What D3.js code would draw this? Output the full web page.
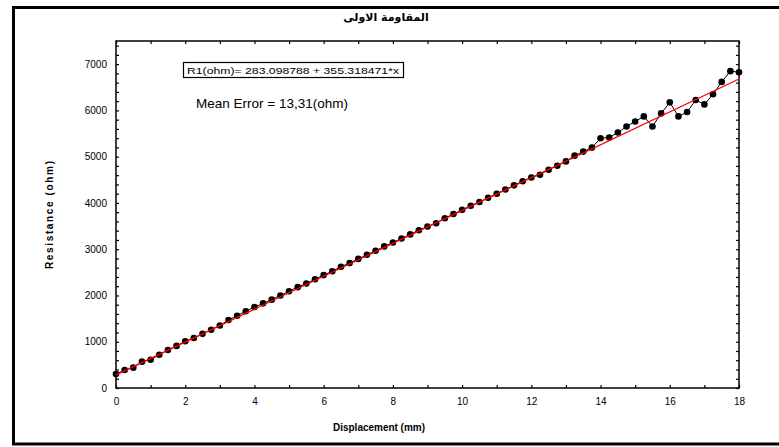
<!DOCTYPE html>
<html>
<head>
<meta charset="utf-8">
<script src="https://cdn.jsdelivr.net/npm/d3@7/dist/d3.min.js"></script>
<style>
	body { margin: 0; background: #fff; }
	text { font-family: "Liberation Sans", Arial, sans-serif; fill: #000; }
	.axis path { display: none; }
	.axis line { stroke: #000; stroke-width: 1.2; }
	.axis text { font-size: 10px; }
</style>
</head>
<body>
<div id="chart"></div>
<script>
// displacement (mm), 0.25 mm steps
var dispArr = d3.range(0, 18.001, 0.25);
var resArr = [
	300, 390, 440, 570, 610, 720, 820, 910, 1010, 1080, 1170, 1260, 1350, 1470, 1560, 1660, 1750, 1830, 1910, 2000, 2090, 2180,
	2260, 2350, 2440, 2525, 2620, 2700, 2790, 2880, 2965, 3060, 3145, 3230, 3320, 3410, 3490, 3560, 3670, 3760, 3850, 3940,
	4020, 4110, 4200, 4290, 4380, 4470, 4550,
	4610, 4717, 4804, 4898, 5022, 5109, 5196, 5398, 5413, 5522, 5652, 5761, 5870, 5652, 5935, 6174, 5870, 5964, 6225,
	6130, 6348, 6616, 6848, 6826
];
var fitA = 283.098788, fitB = 355.318471;
var xTicks = d3.range(0, 19, 1);
var yTicks = d3.range(0, 7501, 200);
var titleTxt = "المقاومة الاولى";
var eqTxt = "R1(ohm)= 283.098788 + 355.318471*x";
var errTxt = "Mean Error = 13,31(ohm)";
var xTitle = "Displacement (mm)";
var yTitle = "Resistance (ohm)";

var W = 779, H = 447;

var svg = d3.select("#chart").append("svg").attr("width", W).attr("height", H);

// outer frame (right edge falls outside the picture)
svg.append("rect").attr("x", 13.5).attr("y", 7.5).attr("width", 790).attr("height", 436.5)
	.attr("fill", "none").attr("stroke", "#000").attr("stroke-width", 3);

svg.append("text").attr("x", 386).attr("y", 21).attr("text-anchor", "middle")
	.style("font-family", "'DejaVu Sans', sans-serif").style("font-size", "11px").style("font-weight", "bold")
	.text(titleTxt);

var xSc = d3.scaleLinear().domain([0, 18]).range([116, 739]);
var ySc = d3.scaleLinear().domain([0, 7500]).range([388, 41]);

function evenLbl(d) { return d % 2 === 0 ? d : ""; }
function kLbl(d) { return d % 1000 === 0 ? d : ""; }

svg.append("g").attr("class", "axis").attr("transform", "translate(0,388)")
	.call(d3.axisBottom(xSc).tickValues(xTicks).tickSizeInner(-3).tickSizeOuter(0).tickPadding(10).tickFormat(evenLbl));
svg.append("g").attr("class", "axis").attr("transform", "translate(0,41)")
	.call(d3.axisTop(xSc).tickValues(xTicks).tickSizeInner(-3).tickSizeOuter(0).tickFormat(""));
svg.append("g").attr("class", "axis").attr("transform", "translate(116,0)")
	.call(d3.axisLeft(ySc).tickValues(yTicks).tickSizeInner(-3).tickSizeOuter(0).tickPadding(9).tickFormat(kLbl));
svg.append("g").attr("class", "axis").attr("transform", "translate(739,0)")
	.call(d3.axisRight(ySc).tickValues(yTicks).tickSizeInner(-3).tickSizeOuter(0).tickFormat(""));

// plot frame
svg.append("rect").attr("x", 116).attr("y", 41).attr("width", 623).attr("height", 347)
	.attr("fill", "none").attr("stroke", "#000").attr("stroke-width", 1.5);

var pts = dispArr.map(function(d, i) { return { x: d, y: resArr[i] }; });

svg.append("path").datum(pts)
	.attr("d", d3.line().x(function(d) { return xSc(d.x); }).y(function(d) { return ySc(d.y); }))
	.attr("fill", "none").attr("stroke", "#000").attr("stroke-width", 1);

svg.append("g").selectAll("circle").data(pts).enter().append("circle")
	.attr("cx", function(d) { return xSc(d.x); })
	.attr("cy", function(d) { return ySc(d.y); })
	.attr("r", 3.3).attr("fill", "#000");

svg.append("line")
	.attr("x1", xSc(0)).attr("y1", ySc(fitA))
	.attr("x2", xSc(18)).attr("y2", ySc(fitA + fitB * 18))
	.attr("stroke", "#f00").attr("stroke-width", 1.3);

// equation box
svg.append("rect").attr("x", 183.5).attr("y", 62.5).attr("width", 220).attr("height", 15)
	.attr("fill", "#fff").attr("stroke", "#000").attr("stroke-width", 1.2);
svg.append("text").attr("x", 187).attr("y", 74).style("font-size", "9px")
	.attr("textLength", 212).attr("lengthAdjust", "spacingAndGlyphs").text(eqTxt);

svg.append("text").attr("x", 196).attr("y", 108).style("font-size", "13px")
	.attr("textLength", 152).attr("lengthAdjust", "spacingAndGlyphs").text(errTxt);

svg.append("text").attr("x", 379).attr("y", 431).attr("text-anchor", "middle")
	.style("font-size", "10px").style("font-weight", "bold")
	.attr("textLength", 92).attr("lengthAdjust", "spacingAndGlyphs").text(xTitle);
svg.append("text").attr("transform", "translate(53,215) rotate(-90)").attr("text-anchor", "middle")
	.style("font-size", "10px").style("font-weight", "bold")
	.attr("textLength", 108).attr("lengthAdjust", "spacing").text(yTitle);
</script>
</body>
</html>
